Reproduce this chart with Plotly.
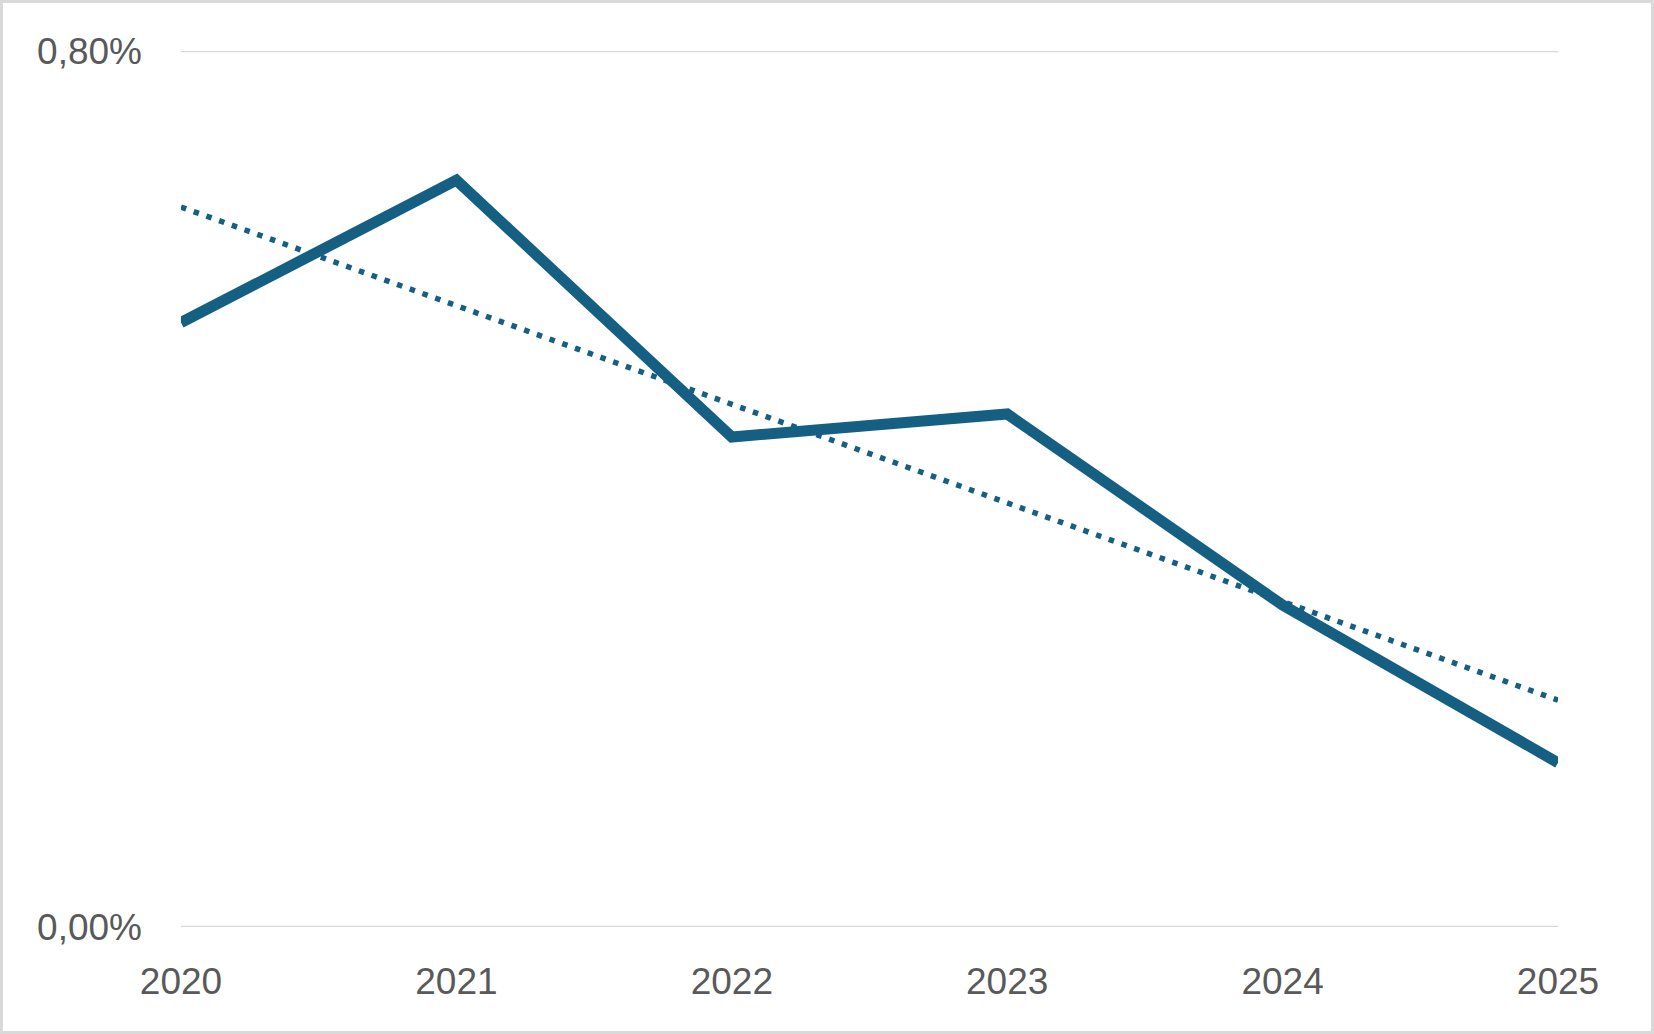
import numpy as np
import plotly.graph_objects as go

years = [2020, 2021, 2022, 2023, 2024, 2025]
values = [0.00552, 0.00682, 0.004475, 0.004685, 0.00294, 0.00150]
y_ticks = [0.0, 0.008]

W, H = 1654, 1034
L, R, T, B = 181, 96, 51, 107
pw, ph = W - L - R, H - T - B

color = "#156082"
text_color = "#595959"
grid_color = "#d9d9d9"

# linear trendline from data
coef = np.polyfit(years, values, 1)
trend = np.polyval(coef, years)

fig = go.Figure()
fig.add_trace(go.Scatter(
    x=years, y=trend, mode="lines",
    line=dict(color=color, width=5.5, dash="5.5px,8px"),
    hoverinfo="skip", showlegend=False))
fig.add_trace(go.Scatter(
    x=years, y=values, mode="lines",
    line=dict(color=color, width=11),
    showlegend=False))

def px_x(p):
    return (p - L) / pw

def px_y(p):
    return (H - B - p) / ph

# gridlines at the tick values
for v in y_ticks:
    fig.add_shape(type="line", xref="paper", yref="y", x0=0, x1=1, y0=v, y1=v,
                  line=dict(color=grid_color, width=2.5), layer="below")

# outer chart border
fig.add_shape(type="rect", xref="paper", yref="paper",
              x0=px_x(1.5), x1=px_x(W - 1.5), y0=px_y(H - 1.5), y1=px_y(1.5),
              line=dict(color=grid_color, width=3), fillcolor="rgba(0,0,0,0)",
              layer="below")

fig.update_layout(
    width=W, height=H,
    margin=dict(l=L, r=R, t=T, b=B, pad=0),
    paper_bgcolor="white", plot_bgcolor="white",
    separators=", ",
    font=dict(family="Liberation Sans, Arial, sans-serif", size=37, color=text_color),
    xaxis=dict(range=[2020, 2025], tickvals=years, ticktext=[str(y) for y in years],
               showgrid=False, zeroline=False, showline=False, ticks="",
               ticklabelstandoff=29, fixedrange=True, automargin=False),
    yaxis=dict(range=[0, 0.008], tickvals=y_ticks, tickformat=".2%",
               showgrid=False, zeroline=False, showline=False, ticks="",
               ticklabelstandoff=38, fixedrange=True, automargin=False),
)

fig.write_html(
    "out.html",
    config={"displayModeBar": False},
    post_script="document.body.style.margin='0';document.body.style.overflow='hidden';",
)
